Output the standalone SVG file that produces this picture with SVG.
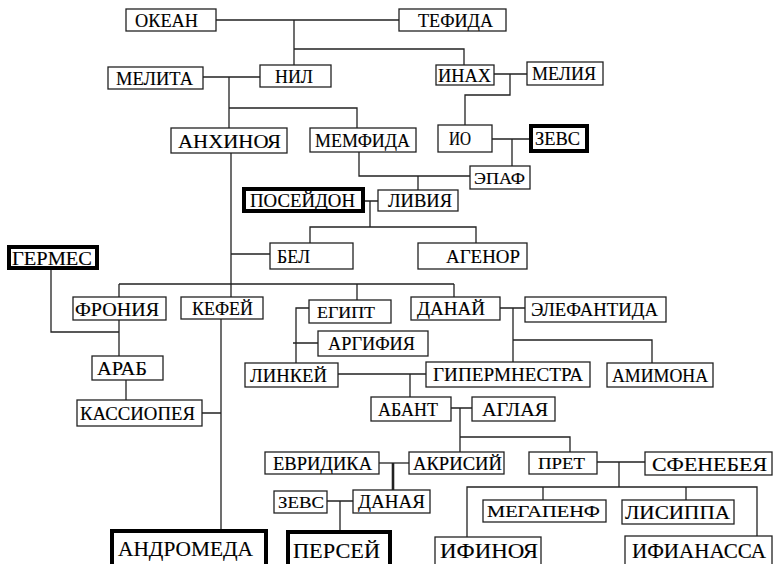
<svg xmlns="http://www.w3.org/2000/svg" width="774" height="564" viewBox="0 0 774 564">
<style>
rect{fill:#fff;stroke:#222;stroke-width:1.3}
.k rect{stroke:#000;stroke-width:4}
text{font-family:"Liberation Serif","Times New Roman",serif;fill:#000;stroke:#000;stroke-width:0.15}
#edges path{fill:none;stroke:#222;stroke-width:1.3}
</style>
<rect x="0" y="0" width="774" height="564" style="stroke:none"/>
<g id="edges">
<path d="M216,20H399M294,20V65M294,49H464V65"/>
<path d="M203,77H260M229,77V128M229,108H357V128"/>
<path d="M494,74H527M510,74V95H465V125"/>
<path d="M492,139H529M512,139V166"/>
<path d="M359,152V176H470M418,176V190"/>
<path d="M365,201H378M370,201V227M310,243V227H476V243"/>
<path d="M231,153V297M231,254H270"/>
<path d="M119,284H454M119,284V297M357,284V300M454,284V297"/>
<path d="M51,270V332H119M119,320V356M126,380V400"/>
<path d="M202,413H221M221,319V529"/>
<path d="M309,308H296V363M293,343H318"/>
<path d="M500,308H525M513,308V362M513,340H652V363"/>
<path d="M338,374H426M410,374V397"/>
<path d="M451,408H472M460,408V452M460,437H570V452"/>
<path d="M379,463H409"/>
<path d="M393,463V490" style="stroke-width:2.6"/>
<path d="M327,501H353M340,501V530"/>
<path d="M597,462H645M619,462V487M467,537V487H757V536M543,487V500M686,487V500"/>
</g>
<g id="okean"><rect x="126" y="9" width="90" height="22"/><text x="135" y="27" font-size="19" textLength="63" lengthAdjust="spacingAndGlyphs">ОКЕАН</text></g>
<g id="tefida"><rect x="399" y="9" width="107" height="22"/><text x="418" y="27" font-size="19" textLength="75" lengthAdjust="spacingAndGlyphs">ТЕФИДА</text></g>
<g id="melita"><rect x="108" y="67" width="95" height="22"/><text x="116" y="84.5" font-size="19" textLength="77" lengthAdjust="spacingAndGlyphs">МЕЛИТА</text></g>
<g id="nil"><rect x="260" y="65" width="71" height="22"/><text x="275" y="83" font-size="19" textLength="38" lengthAdjust="spacingAndGlyphs">НИЛ</text></g>
<g id="inah"><rect x="436" y="65" width="58" height="20"/><text x="438" y="81.7" font-size="18" textLength="53" lengthAdjust="spacingAndGlyphs">ИНАХ</text></g>
<g id="meliya"><rect x="527" y="62" width="76" height="23"/><text x="532" y="80.2" font-size="18" textLength="64" lengthAdjust="spacingAndGlyphs">МЕЛИЯ</text></g>
<g id="io"><rect x="438" y="125" width="54" height="27"/><text x="449" y="145.2" font-size="18" textLength="22" lengthAdjust="spacingAndGlyphs">ИО</text></g>
<g id="zevs1" class="k"><rect x="531" y="126" width="56" height="25"/><text x="535" y="145.2" font-size="18" textLength="45" lengthAdjust="spacingAndGlyphs">ЗЕВС</text></g>
<g id="epaf"><rect x="470" y="166" width="60" height="23"/><text x="474" y="183.8" font-size="17" textLength="51" lengthAdjust="spacingAndGlyphs">ЭПАФ</text></g>
<g id="anhinoya"><rect x="171" y="128" width="116" height="25"/><text x="178" y="147.5" font-size="19" textLength="103" lengthAdjust="spacingAndGlyphs">АНХИНОЯ</text></g>
<g id="memfida"><rect x="310" y="128" width="106" height="24"/><text x="315" y="146.7" font-size="18" textLength="95" lengthAdjust="spacingAndGlyphs">МЕМФИДА</text></g>
<g id="poseidon" class="k"><rect x="244" y="189" width="119" height="22"/><text x="250" y="207" font-size="19" textLength="105" lengthAdjust="spacingAndGlyphs">ПОСЕЙДОН</text></g>
<g id="liviya"><rect x="378" y="190" width="80" height="21"/><text x="388" y="207.2" font-size="18" textLength="64" lengthAdjust="spacingAndGlyphs">ЛИВИЯ</text></g>
<g id="bel"><rect x="270" y="243" width="83" height="26"/><text x="277" y="263" font-size="19" textLength="33" lengthAdjust="spacingAndGlyphs">БЕЛ</text></g>
<g id="agenor"><rect x="418" y="243" width="109" height="26"/><text x="446" y="263" font-size="19" textLength="74" lengthAdjust="spacingAndGlyphs">АГЕНОР</text></g>
<g id="germes" class="k"><rect x="9" y="247" width="88" height="21"/><text x="12" y="264.5" font-size="19" textLength="80" lengthAdjust="spacingAndGlyphs">ГЕРМЕС</text></g>
<g id="froniya"><rect x="73" y="297" width="93" height="23"/><text x="75" y="315.5" font-size="19" textLength="84" lengthAdjust="spacingAndGlyphs">ФРОНИЯ</text></g>
<g id="kefei"><rect x="181" y="297" width="82" height="22"/><text x="192" y="314.7" font-size="18" textLength="61" lengthAdjust="spacingAndGlyphs">КЕФЕЙ</text></g>
<g id="egipt"><rect x="309" y="300" width="82" height="23"/><text x="317" y="317.8" font-size="17" textLength="58" lengthAdjust="spacingAndGlyphs">ЕГИПТ</text></g>
<g id="danai"><rect x="411" y="297" width="89" height="23"/><text x="417" y="315.2" font-size="18" textLength="68" lengthAdjust="spacingAndGlyphs">ДАНАЙ</text></g>
<g id="elefantida"><rect x="525" y="297" width="141" height="25"/><text x="531" y="316.2" font-size="18" textLength="127" lengthAdjust="spacingAndGlyphs">ЭЛЕФАНТИДА</text></g>
<g id="argifiya"><rect x="318" y="331" width="110" height="25"/><text x="328" y="350.2" font-size="18" textLength="87" lengthAdjust="spacingAndGlyphs">АРГИФИЯ</text></g>
<g id="linkei"><rect x="245" y="363" width="93" height="24"/><text x="250" y="381.7" font-size="18" textLength="77" lengthAdjust="spacingAndGlyphs">ЛИНКЕЙ</text></g>
<g id="gipermnestra"><rect x="426" y="362" width="164" height="25"/><text x="433" y="381.2" font-size="18" textLength="150" lengthAdjust="spacingAndGlyphs">ГИПЕРМНЕСТРА</text></g>
<g id="amimona"><rect x="607" y="363" width="106" height="24"/><text x="612" y="381.7" font-size="18" textLength="96" lengthAdjust="spacingAndGlyphs">АМИМОНА</text></g>
<g id="arab"><rect x="92" y="356" width="71" height="24"/><text x="97" y="375" font-size="19" textLength="50" lengthAdjust="spacingAndGlyphs">АРАБ</text></g>
<g id="kassiopeya"><rect x="77" y="400" width="125" height="26"/><text x="80" y="420" font-size="19" textLength="115" lengthAdjust="spacingAndGlyphs">КАССИОПЕЯ</text></g>
<g id="abant"><rect x="371" y="397" width="80" height="24"/><text x="378" y="415.7" font-size="18" textLength="60" lengthAdjust="spacingAndGlyphs">АБАНТ</text></g>
<g id="aglaya"><rect x="472" y="397" width="83" height="24"/><text x="482" y="415.7" font-size="18" textLength="66" lengthAdjust="spacingAndGlyphs">АГЛАЯ</text></g>
<g id="evridika"><rect x="265" y="452" width="114" height="22"/><text x="273" y="469.7" font-size="18" textLength="99" lengthAdjust="spacingAndGlyphs">ЕВРИДИКА</text></g>
<g id="akrisii"><rect x="409" y="452" width="95" height="22"/><text x="413" y="469.7" font-size="18" textLength="89" lengthAdjust="spacingAndGlyphs">АКРИСИЙ</text></g>
<g id="pret"><rect x="529" y="452" width="68" height="22"/><text x="538" y="469.3" font-size="17" textLength="47" lengthAdjust="spacingAndGlyphs">ПРЕТ</text></g>
<g id="sfenebeya"><rect x="645" y="452" width="127" height="23"/><text x="652" y="470.5" font-size="19" textLength="115" lengthAdjust="spacingAndGlyphs">СФЕНЕБЕЯ</text></g>
<g id="zevs2"><rect x="274" y="491" width="53" height="22"/><text x="278" y="508.4" font-size="17" textLength="46" lengthAdjust="spacingAndGlyphs">ЗЕВС</text></g>
<g id="danaya"><rect x="353" y="490" width="77" height="23"/><text x="358" y="508.2" font-size="18" textLength="67" lengthAdjust="spacingAndGlyphs">ДАНАЯ</text></g>
<g id="megapenf"><rect x="483" y="500" width="123" height="22"/><text x="487" y="517.4" font-size="17" textLength="113" lengthAdjust="spacingAndGlyphs">МЕГАПЕНФ</text></g>
<g id="lisippa"><rect x="622" y="500" width="112" height="24"/><text x="625" y="519" font-size="19" textLength="105" lengthAdjust="spacingAndGlyphs">ЛИСИППА</text></g>
<g id="andromeda" class="k"><rect x="112" y="531" width="154" height="40"/><text x="118" y="555.5" font-size="22" textLength="135" lengthAdjust="spacingAndGlyphs">АНДРОМЕДА</text></g>
<g id="persei" class="k"><rect x="288" y="532" width="102" height="40"/><text x="293" y="557.5" font-size="22" textLength="87" lengthAdjust="spacingAndGlyphs">ПЕРСЕЙ</text></g>
<g id="ifinoya"><rect x="435" y="537" width="106" height="40"/><text x="440" y="557.5" font-size="22" textLength="98" lengthAdjust="spacingAndGlyphs">ИФИНОЯ</text></g>
<g id="ifianassa"><rect x="625" y="536" width="147" height="40"/><text x="632" y="557.5" font-size="22" textLength="134" lengthAdjust="spacingAndGlyphs">ИФИАНАССА</text></g>
</svg>
